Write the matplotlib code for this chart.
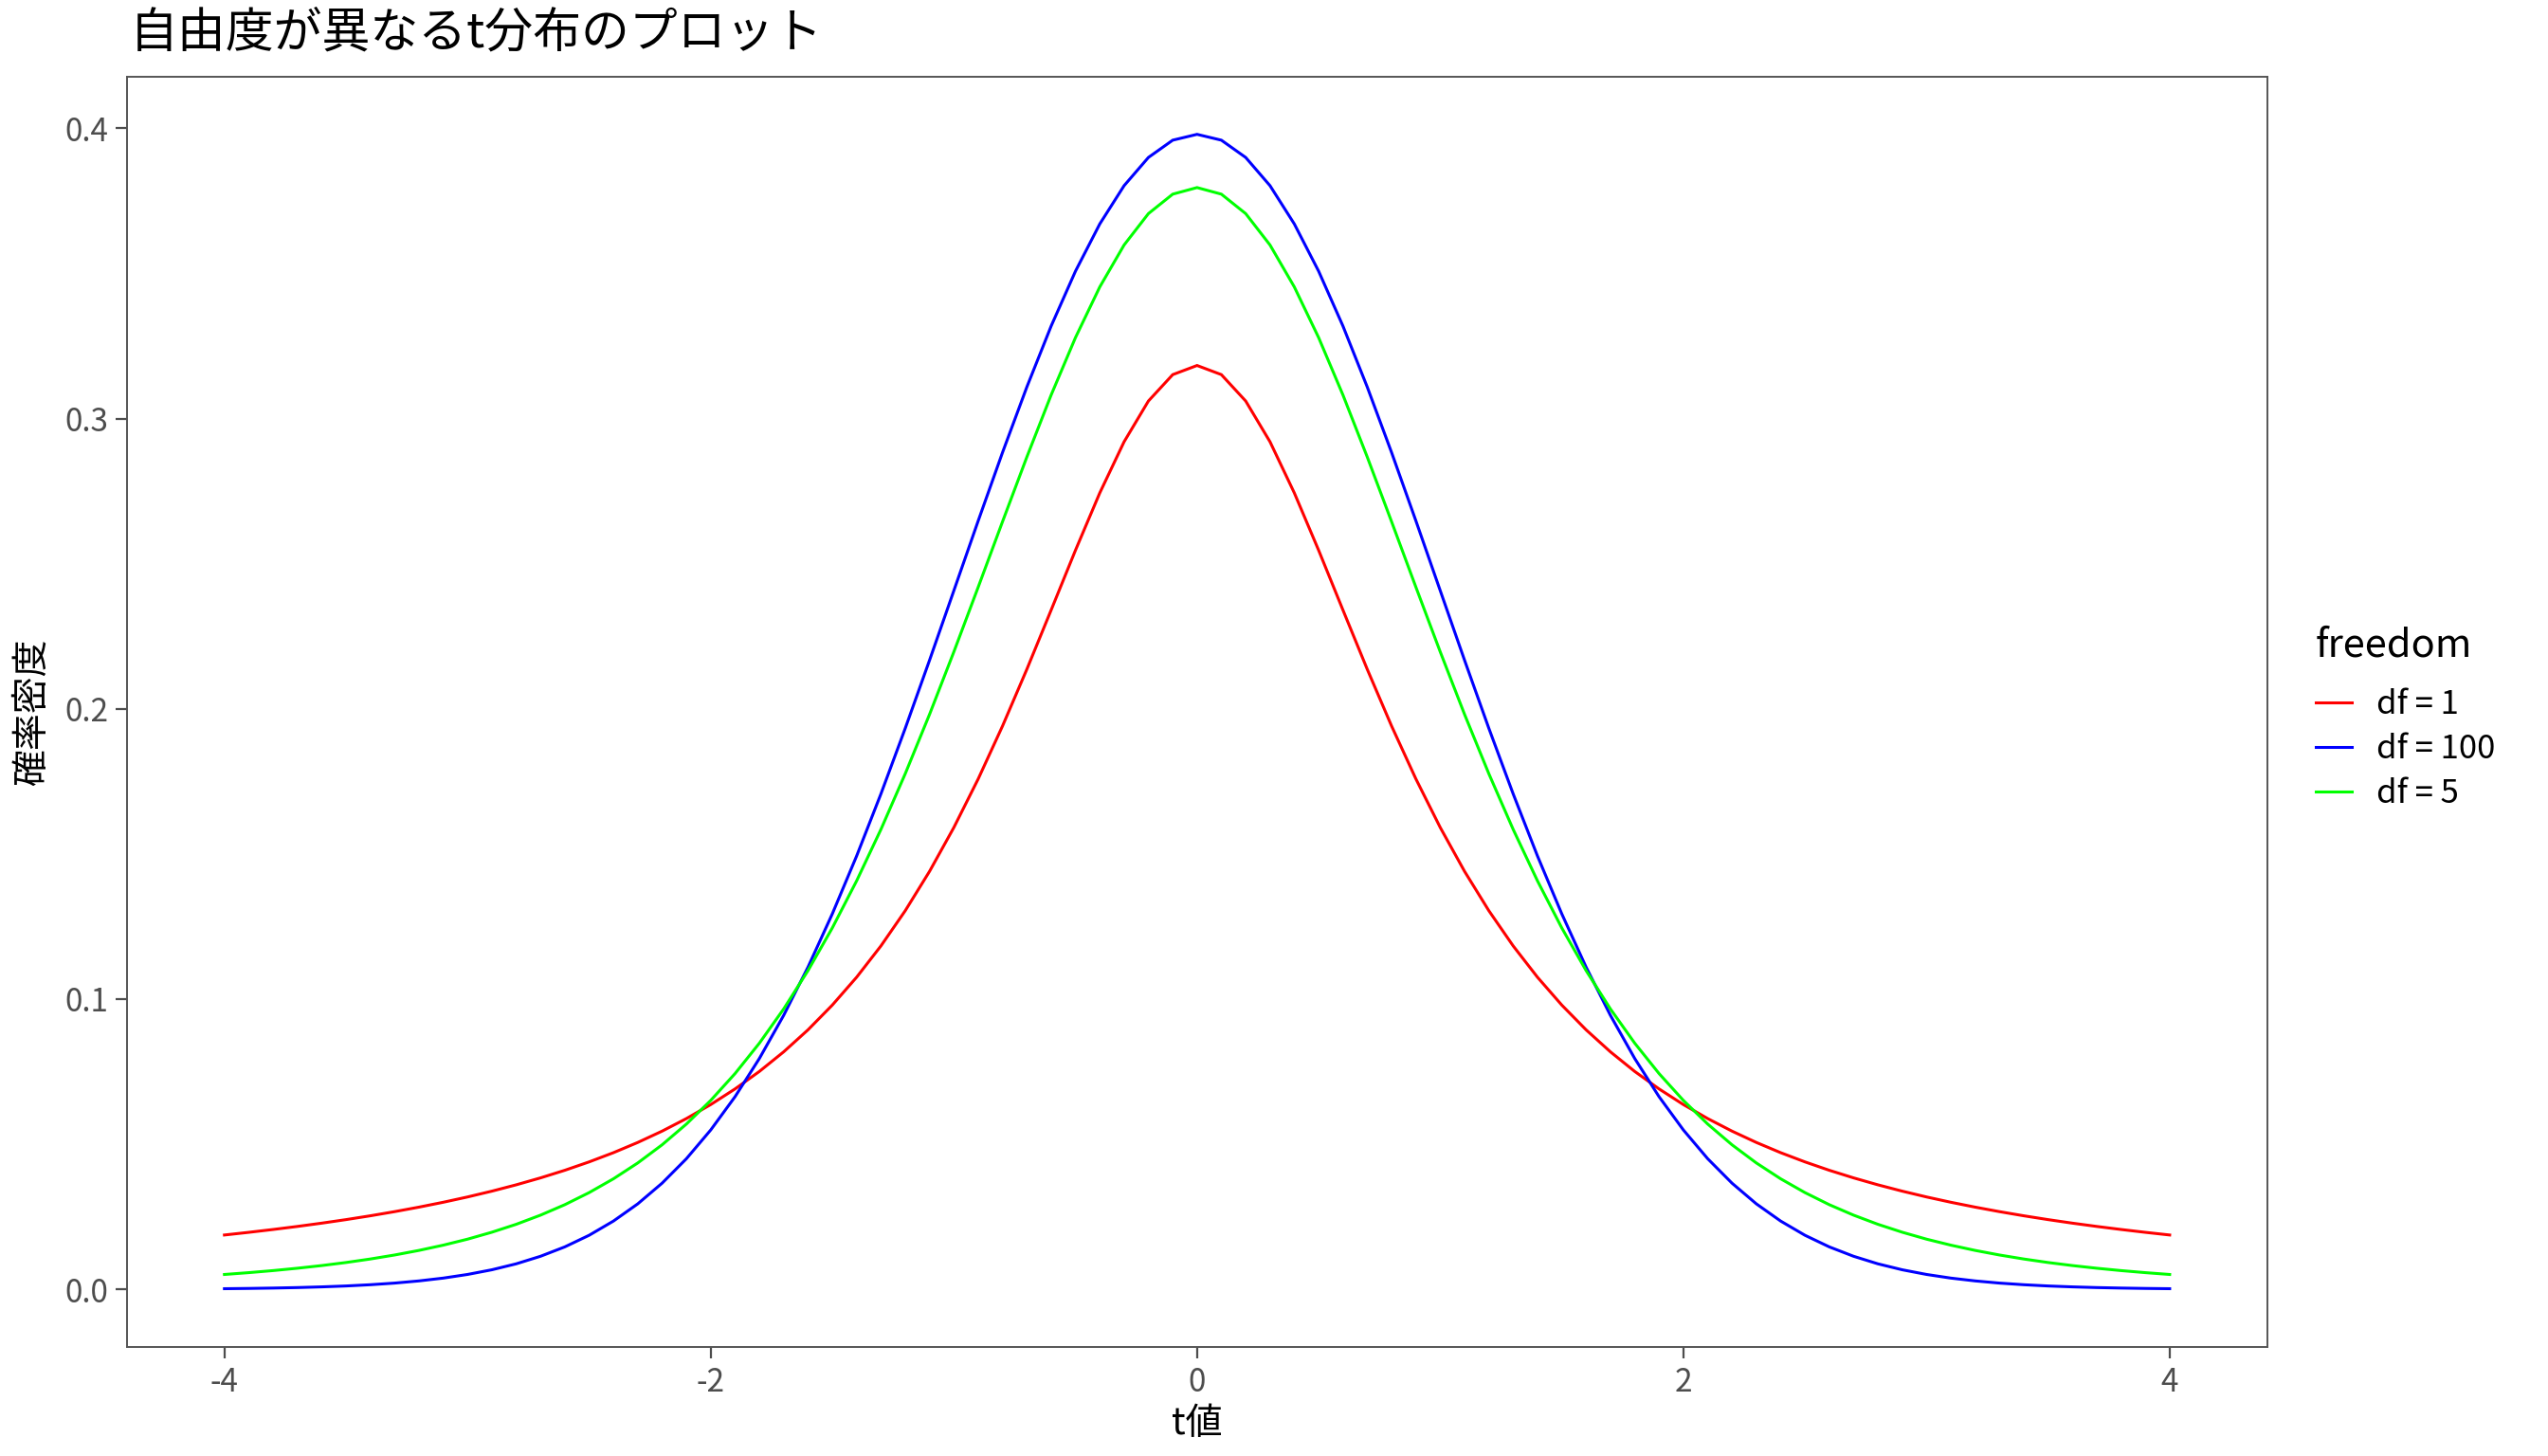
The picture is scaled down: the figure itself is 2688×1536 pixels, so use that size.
import matplotlib
matplotlib.use("Agg")
import matplotlib.pyplot as plt

plt.rcParams['font.family'] = ['Noto Sans CJK JP', 'DejaVu Sans']

# t values (x axis)
t_vals = [-4.0, -3.9, -3.8, -3.7, -3.6, -3.5, -3.4, -3.3, -3.2, -3.1,
          -3.0, -2.9, -2.8, -2.7, -2.6, -2.5, -2.4, -2.3, -2.2, -2.1,
          -2.0, -1.9, -1.8, -1.7, -1.6, -1.5, -1.4, -1.3, -1.2, -1.1,
          -1.0, -0.9, -0.8, -0.7, -0.6, -0.5, -0.4, -0.3, -0.2, -0.1,
          0.0,
          0.1, 0.2, 0.3, 0.4, 0.5, 0.6, 0.7, 0.8, 0.9, 1.0,
          1.1, 1.2, 1.3, 1.4, 1.5, 1.6, 1.7, 1.8, 1.9, 2.0,
          2.1, 2.2, 2.3, 2.4, 2.5, 2.6, 2.7, 2.8, 2.9, 3.0,
          3.1, 3.2, 3.3, 3.4, 3.5, 3.6, 3.7, 3.8, 3.9, 4.0]

dens_df1 = [0.01872, 0.01964, 0.02062, 0.02167, 0.02280, 0.02402, 0.02534, 0.02677, 0.02832, 0.03000,
            0.03183, 0.03383, 0.03601, 0.03840, 0.04102, 0.04391, 0.04709, 0.05061, 0.05451, 0.05884,
            0.06366, 0.06905, 0.07507, 0.08183, 0.08941, 0.09794, 0.10754, 0.11833, 0.13046, 0.14403,
            0.15915, 0.17586, 0.19409, 0.21363, 0.23405, 0.25465, 0.27441, 0.29203, 0.30607, 0.31516,
            0.31831,
            0.31516, 0.30607, 0.29203, 0.27441, 0.25465, 0.23405, 0.21363, 0.19409, 0.17586, 0.15915,
            0.14403, 0.13046, 0.11833, 0.10754, 0.09794, 0.08941, 0.08183, 0.07507, 0.06905, 0.06366,
            0.05884, 0.05451, 0.05061, 0.04709, 0.04391, 0.04102, 0.03840, 0.03601, 0.03383, 0.03183,
            0.03000, 0.02832, 0.02677, 0.02534, 0.02402, 0.02280, 0.02167, 0.02062, 0.01964, 0.01872]

dens_df5 = [0.00512, 0.00575, 0.00646, 0.00727, 0.00819, 0.00924, 0.01045, 0.01183, 0.01341, 0.01522,
            0.01729, 0.01968, 0.02241, 0.02556, 0.02917, 0.03333, 0.03809, 0.04355, 0.04980, 0.05695,
            0.06509, 0.07434, 0.08481, 0.09661, 0.10982, 0.12452, 0.14074, 0.15848, 0.17766, 0.19813,
            0.21968, 0.24195, 0.26450, 0.28677, 0.30815, 0.32792, 0.34538, 0.35983, 0.37064, 0.37734,
            0.37961,
            0.37734, 0.37064, 0.35983, 0.34538, 0.32792, 0.30815, 0.28677, 0.26450, 0.24195, 0.21968,
            0.19813, 0.17766, 0.15848, 0.14074, 0.12452, 0.10982, 0.09661, 0.08481, 0.07434, 0.06509,
            0.05695, 0.04980, 0.04355, 0.03809, 0.03333, 0.02917, 0.02556, 0.02241, 0.01968, 0.01729,
            0.01522, 0.01341, 0.01183, 0.01045, 0.00924, 0.00819, 0.00727, 0.00646, 0.00575, 0.00512]

dens_df100 = [0.00022, 0.00031, 0.00044, 0.00061, 0.00085, 0.00116, 0.00159, 0.00215, 0.00290, 0.00387,
              0.00513, 0.00674, 0.00879, 0.01139, 0.01463, 0.01863, 0.02353, 0.02946, 0.03658, 0.04501,
              0.05491, 0.06637, 0.07953, 0.09440, 0.11102, 0.12937, 0.14931, 0.17072, 0.19331, 0.21679,
              0.24077, 0.26479, 0.28834, 0.31089, 0.33190, 0.35080, 0.36708, 0.38027, 0.38999, 0.39594,
              0.39795,
              0.39594, 0.38999, 0.38027, 0.36708, 0.35080, 0.33190, 0.31089, 0.28834, 0.26479, 0.24077,
              0.21679, 0.19331, 0.17072, 0.14931, 0.12937, 0.11102, 0.09440, 0.07953, 0.06637, 0.05491,
              0.04501, 0.03658, 0.02946, 0.02353, 0.01863, 0.01463, 0.01139, 0.00879, 0.00674, 0.00513,
              0.00387, 0.00290, 0.00215, 0.00159, 0.00116, 0.00085, 0.00061, 0.00044, 0.00031, 0.00022]

series_labels = ['df = 1', 'df = 100', 'df = 5']
series_colors = ['#FF0000', '#0000FF', '#00FF00']
x_ticks = [-4, -2, 0, 2, 4]
y_ticks = [0.0, 0.1, 0.2, 0.3, 0.4]

fig = plt.figure(figsize=(13.44, 7.68), dpi=200)
ax = fig.add_axes([0.0499, 0.0748, 0.8398, 0.8727])

for dens, lab, col in zip([dens_df1, dens_df100, dens_df5], series_labels, series_colors):
    ax.plot(t_vals, dens, color=col, lw=1.1, label=lab, solid_joinstyle='miter')

ax.set_xlim(-4.4, 4.4)
ax.set_ylim(-0.0199, 0.4179)
ax.set_xticks(x_ticks)
ax.set_xticklabels([str(v) for v in x_ticks])
ax.set_yticks(y_ticks)
ax.set_yticklabels([f'{v:.1f}' for v in y_ticks])

grey = '#4D4D4D'
for s in ax.spines.values():
    s.set_color('#555555')
    s.set_linewidth(0.7)
ax.tick_params(axis='both', colors=grey, labelcolor=grey, labelsize=12,
               length=4.2, width=0.8, pad=3)

ax.set_xlabel('t値', fontsize=14, labelpad=2)
ax.set_ylabel('確率密度', fontsize=14, labelpad=5)
fig.text(0.051, 0.977, '自由度が異なるt分布のプロット', fontsize=18.3,
         ha='left', va='center')

leg = ax.legend(loc='upper left', bbox_to_anchor=(1.0165, 0.578), frameon=False,
                title='freedom', title_fontsize=15, fontsize=12.5,
                handlelength=1.1, handletextpad=0.75, labelspacing=0.34,
                alignment='left', borderaxespad=0)
leg._legend_box.sep = 9

fig.savefig('out.png', dpi=200)
